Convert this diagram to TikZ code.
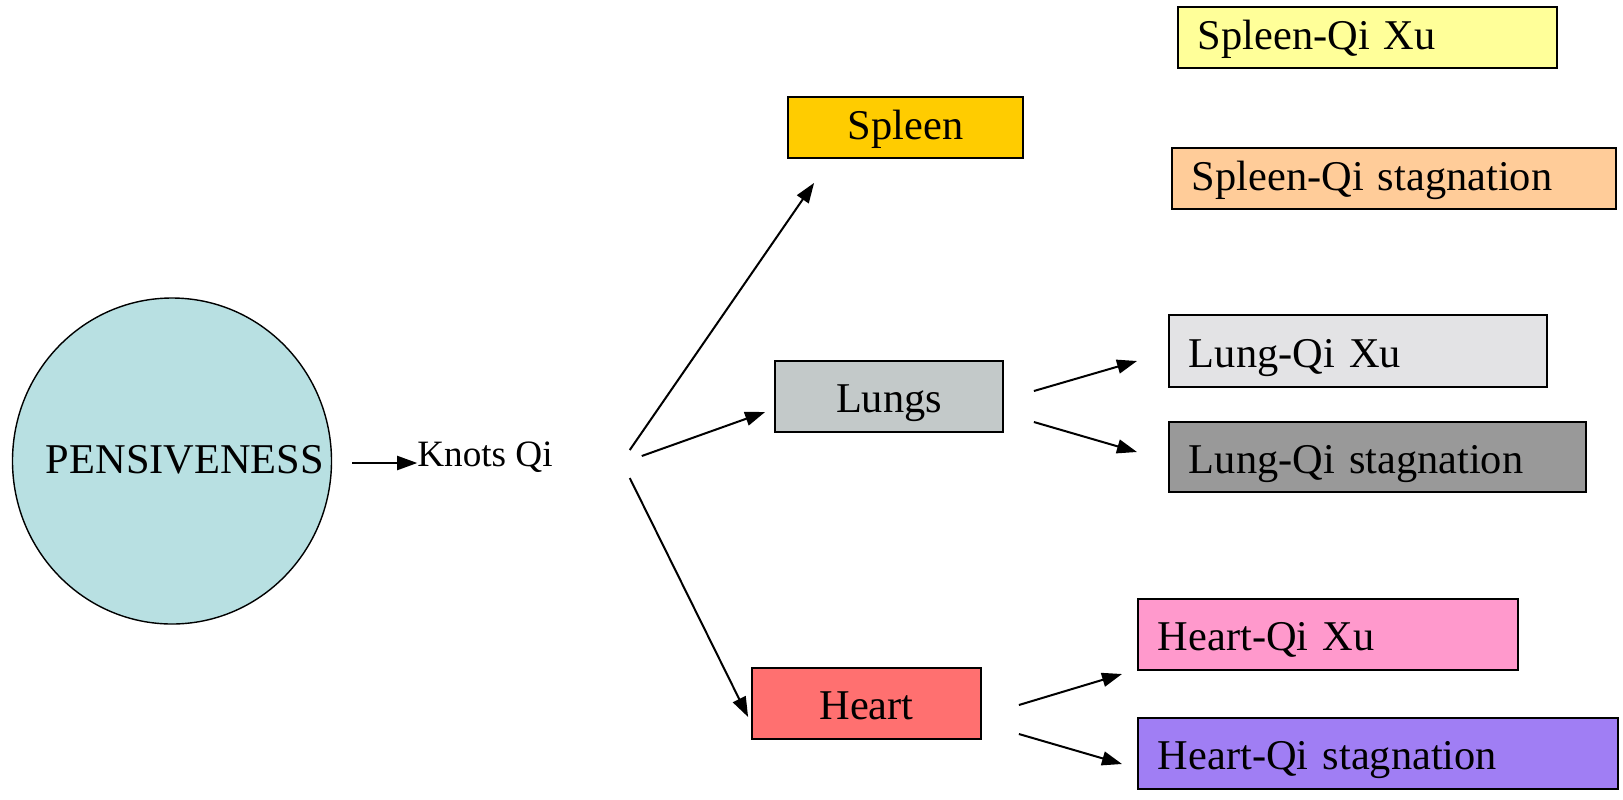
\documentclass[tikz,border=0pt]{standalone}
\usepackage{fontspec}
\setmainfont{Liberation Serif}
\usetikzlibrary{arrows.meta,calc,shapes.geometric}

\definecolor{pensfill}{RGB}{184,224,226}
\definecolor{spleenfill}{RGB}{255,204,0}
\definecolor{lungsfill}{RGB}{195,201,201}
\definecolor{heartfill}{RGB}{255,112,112}
\definecolor{sxufill}{RGB}{255,255,153}
\definecolor{sstagfill}{RGB}{255,204,153}
\definecolor{lxufill}{RGB}{227,227,229}
\definecolor{lstagfill}{RGB}{153,153,153}
\definecolor{hxufill}{RGB}{255,153,204}
\definecolor{hstagfill}{RGB}{160,126,244}

\tikzset{
    bigtext/.style={font=\fontsize{21.2}{26}\selectfont},
    organ/.style={bigtext, draw, line width=0.9pt, inner sep=0pt},
    cause/.style={bigtext, draw, line width=0.9pt, anchor=west, inner xsep=10pt, inner ysep=0pt, align=left},
    shortbox/.style={minimum height=30.5pt, text height=14.6pt, text depth=2.6pt},
    tallbox/.style={minimum height=35.5pt, text height=16pt, text depth=0pt},
    arr/.style={line width=1pt, -{Triangle[length=10pt,width=7pt]}}
}

\begin{document}
\begin{tikzpicture}[x=0.5pt, y=-0.5pt]
        \useasboundingbox (0,0) rectangle (1623,799);

        % Emotion
        \node[ellipse, draw, line width=0.7pt, fill=pensfill, minimum width=159.5pt, minimum height=163pt] (pens) at (172,461) {};
        \node[bigtext, anchor=base] (penstext) at (185,473) {PENSIVENESS};
        \node[font=\fontsize{18.6}{22}\selectfont, anchor=base] (knots) at (485,466) {Knots Qi};

        % Organs
        \node[organ, shortbox, fill=spleenfill, minimum width=117.5pt] (spleen) at (905.5,127.5) {Spleen};
        \node[organ, tallbox, fill=lungsfill, minimum width=114pt] (lungs) at (889,396.5) {Lungs};
        \node[organ, tallbox, fill=heartfill, minimum width=114.5pt] (heart) at (866.5,703.5) {Heart};

        % Patterns
        \node[cause, shortbox, fill=sxufill, text width=169.5pt] (sxu) at (1177,37.5) {Spleen-Qi Xu};
        \node[cause, shortbox, fill=sstagfill, text width=202pt] (sstag) at (1171,178.5) {Spleen-Qi stagnation};
        \node[cause, tallbox, fill=lxufill, text width=169pt, minimum height=36pt] (lxu) at (1168,351) {Lung-Qi Xu};
        \node[cause, tallbox, fill=lstagfill, text width=188.5pt, minimum height=35pt] (lstag) at (1168,457) {Lung-Qi stagnation};
        \node[cause, tallbox, fill=hxufill, text width=170pt] (hxu) at (1137,634.5) {Heart-Qi Xu};
        \node[cause, tallbox, fill=hstagfill, text width=220pt] (hstag) at (1137,753.5) {Heart-Qi stagnation};

        % Arrows
        \draw[arr] ($(pens.east)+(20,2)$) -- ($(knots.base west)+(7,-3)$);
        \draw[arr] ($(knots.base east)+(70,-16)$) -- ($(spleen.south west)+(27,24)$);
        \draw[arr] ($(knots.base east)+(82,-10)$) -- ($(lungs.west)+(-9,15.5)$);
        \draw[arr] ($(knots.base east)+(70,12)$) -- ($(heart.west)+(-3,13.5)$);

        \draw[arr] ($(lungs.east)+(30,-5.5)$) -- ($(lxu.west)+(-31,10)$);
        \draw[arr] ($(lungs.east)+(30,25.5)$) -- ($(lstag.west)+(-31,-5)$);
        \draw[arr] ($(heart.east)+(37,1.5)$) -- ($(hxu.west)+(-15,39.5)$);
        \draw[arr] ($(heart.east)+(37,30.5)$) -- ($(hstag.west)+(-15,10.5)$);
    \end{tikzpicture}
\end{document}
